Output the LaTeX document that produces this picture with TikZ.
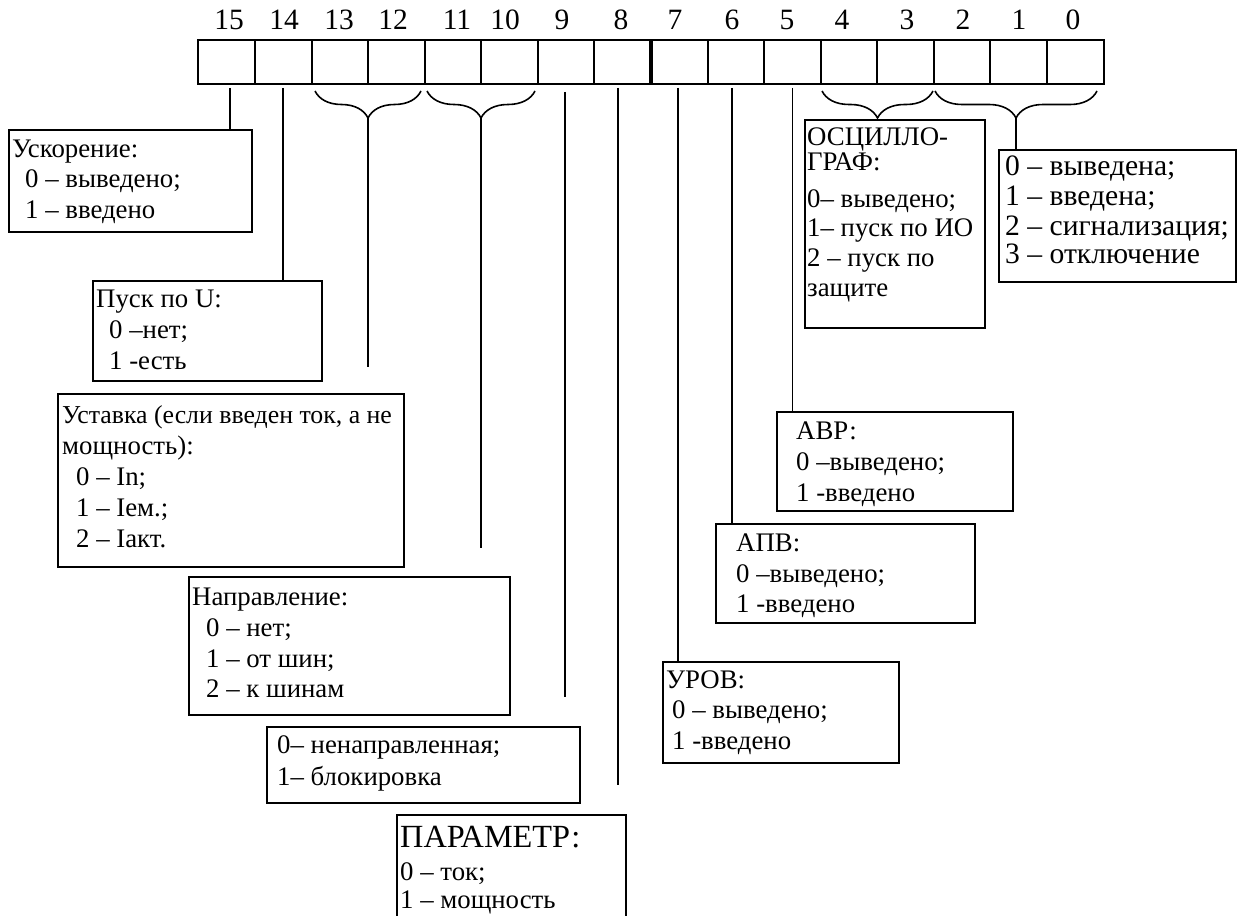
\documentclass[tikz,border=0pt]{standalone}
\usepackage{fontspec}
\setmainfont{Liberation Serif}
\usetikzlibrary{decorations.pathreplacing}
\tikzset{
  cell/.style={draw, line width=2pt, minimum height=44pt, inner sep=0pt, outer sep=0pt},
  digit/.style={anchor=base, inner sep=0pt, font=\fontsize{29.5}{32}\selectfont},
  box/.style={draw, line width=1.6pt, anchor=north west, inner sep=0pt, outer sep=0pt},
  txt/.style={anchor=base west, inner sep=0pt, font=\fontsize{26.8}{31}\selectfont},
  bigtxt/.style={txt, font=\fontsize{29.6}{31}\selectfont},
  headtxt/.style={txt, font=\fontsize{32.3}{34}\selectfont},
  conn/.style={line width=1.6pt},
  brc/.style={line width=1.6pt, decorate, decoration={brace, amplitude=27pt, mirror}},
}
\begin{document}
\begin{tikzpicture}[x=1pt, y=-1pt]
\fill[white] (0,0) rectangle (1246,915);
\useasboundingbox (0,0) rectangle (1246,915);
\clip (0,0) rectangle (1246,915);

% register cells
\node[cell, minimum width=57pt] (c15) at (226.5,62) {};
\node[cell, minimum width=57pt] (c14) at (283.5,62) {};
\node[cell, minimum width=56pt] (c13) at (340,62) {};
\node[cell, minimum width=57pt] (c12) at (396.5,62) {};
\node[cell, minimum width=56pt] (c11) at (453,62) {};
\node[cell, minimum width=57pt] (c10) at (509.5,62) {};
\node[cell, minimum width=56pt] (c9) at (566,62) {};
\node[cell, minimum width=57pt] (c8) at (622.5,62) {};
\node[cell, minimum width=57pt] (c7) at (679.5,62) {};
\node[cell, minimum width=56pt] (c6) at (736,62) {};
\node[cell, minimum width=57pt] (c5) at (792.5,62) {};
\node[cell, minimum width=56pt] (c4) at (849,62) {};
\node[cell, minimum width=57pt] (c3) at (905.5,62) {};
\node[cell, minimum width=56pt] (c2) at (962,62) {};
\node[cell, minimum width=57pt] (c1) at (1018.5,62) {};
\node[cell, minimum width=57pt] (c0) at (1075.5,62) {};
\draw[line width=4pt] (c8.north east) -- (c8.south east);

% bit numbers
\node[digit] (d15) at (229,30) {15};
\node[digit] (d14) at (284,30) {14};
\node[digit] (d13) at (339,30) {13};
\node[digit] (d12) at (393,30) {12};
\node[digit] (d11) at (457,30) {11};
\node[digit] (d10) at (505,30) {10};
\node[digit] (d9) at (562,30) {9};
\node[digit] (d8) at (621,30) {8};
\node[digit] (d7) at (675,30) {7};
\node[digit] (d6) at (732,30) {6};
\node[digit] (d5) at (787,30) {5};
\node[digit] (d4) at (842,30) {4};
\node[digit] (d3) at (907,30) {3};
\node[digit] (d2) at (963,30) {2};
\node[digit] (d1) at (1019,30) {1};
\node[digit] (d0) at (1073,30) {0};

% boxes
\node[box, minimum width=243pt, minimum height=102pt] (b15) at (9,130) {};
\node[box, minimum width=229pt, minimum height=100pt] (b14) at (93,281) {};
\node[box, minimum width=346pt, minimum height=173pt] (b1312) at (58,394) {};
\node[box, minimum width=321pt, minimum height=138pt] (b1110) at (189,577) {};
\node[box, minimum width=313pt, minimum height=76pt] (b9) at (267,727) {};
\node[box, minimum width=229pt, minimum height=112pt] (b8) at (397,815) {};
\node[box, minimum width=236pt, minimum height=101pt] (b7) at (663,662) {};
\node[box, minimum width=259pt, minimum height=99pt] (b6) at (716,524) {};
\node[box, minimum width=236pt, minimum height=99pt] (b5) at (777,412) {};
\node[box, minimum width=180pt, minimum height=208pt] (b43) at (805,120) {};
\node[box, minimum width=237pt, minimum height=132pt] (b20) at (999,150) {};

% connector start points
\coordinate (k15) at (230,88);
\coordinate (k14) at (283,88);
\coordinate (k9) at (565,92);
\coordinate (k8) at (618,88);
\coordinate (k7) at (678,88);
\coordinate (k6) at (732,88);
\coordinate (k5) at (792.5,88);
\coordinate (e9) at (565,697);
\coordinate (e8) at (618,785);

% braces
\coordinate (g13a) at (315,91);
\coordinate (g13b) at (421,91);
\coordinate (g13tip) at (368,118);
\coordinate (g13end) at (368,367);
\coordinate (g11a) at (427,91);
\coordinate (g11b) at (535,91);
\coordinate (g11tip) at (481,118);
\coordinate (g11end) at (481,548);
\coordinate (g4a) at (822,91);
\coordinate (g4b) at (933,91);
\coordinate (g4tip) at (877.5,118);
\coordinate (g2a) at (935,91);
\coordinate (g2b) at (1097,91);
\coordinate (g2tip) at (1016,118);

\draw[brc] (g13a) -- (g13b);
\draw[brc] (g11a) -- (g11b);
\draw[brc] (g4a) -- (g4b);
\draw[brc] (g2a) -- (g2b);

% connectors
\draw[conn] (k15) -- (k15 |- b15.north);
\draw[conn] (k14) -- (k14 |- b14.north);
\draw[conn] (g13tip) -- (g13end);
\draw[conn] (g11tip) -- (g11end);
\draw[conn] (k9) -- (e9);
\draw[conn] (k8) -- (e8);
\draw[conn] (k7) -- (k7 |- b7.north);
\draw[conn] (k6) -- (k6 |- b6.north);
\draw[conn] (k5) -- (k5 |- b5.north);
\draw[conn] (g4tip) -- (g4tip |- b43.north);
\draw[conn] (g2tip) -- (g2tip |- b20.north);

% texts
\node[txt] (t15a) at (12,157) {Ускорение:};
\node[txt] (t15b) at (25,187) {0 – выведено;};
\node[txt] (t15c) at (25,218) {1 – введено};

\node[txt] (t14a) at (96,307) {Пуск по U:};
\node[txt] (t14b) at (109,338) {0 –нет;};
\node[txt] (t14c) at (109,369) {1 -есть};

\node[txt, font=\fontsize{25.8}{31}\selectfont] (t13a) at (62,423) {Уставка (если введен ток, а не};
\node[txt] (t13b) at (62,454) {мощность):};
\node[txt] (t13c) at (76,485) {0 – In;};
\node[txt] (t13d) at (76,516) {1 – Iем.;};
\node[txt] (t13e) at (76,547) {2 – Iакт.};

\node[txt] (t11a) at (192,605) {Направление:};
\node[txt] (t11b) at (206,636) {0 – нет;};
\node[txt] (t11c) at (206,667) {1 – от шин;};
\node[txt] (t11d) at (206,697) {2 – к шинам};

\node[txt] (t9a) at (277,753) {0– ненаправленная;};
\node[txt] (t9b) at (277,785) {1– блокировка};

\node[headtxt] (t8a) at (400,847) {ПАРАМЕТР:};
\node[txt] (t8b) at (400,880) {0 – ток;};
\node[txt] (t8c) at (400,908) {1 – мощность};

\node[txt] (t7a) at (666,688) {УРОВ:};
\node[txt] (t7b) at (672,718) {0 – выведено;};
\node[txt] (t7c) at (672,749) {1 -введено};

\node[txt] (t6a) at (736,551) {АПВ:};
\node[txt] (t6b) at (736,582) {0 –выведено;};
\node[txt] (t6c) at (736,612) {1 -введено};

\node[txt] (t5a) at (796,439) {АВР:};
\node[txt] (t5b) at (796,470) {0 –выведено;};
\node[txt] (t5c) at (796,501) {1 -введено};

\node[txt] (t4a) at (807,145) {ОСЦИЛЛО-};
\node[txt] (t4b) at (807,170) {ГРАФ:};
\node[txt] (t4c) at (807,207) {0– выведено;};
\node[txt] (t4d) at (807,236) {1– пуск по ИО};
\node[txt] (t4e) at (807,266) {2 – пуск по};
\node[txt] (t4f) at (807,296) {защите};

\node[bigtxt] (t2a) at (1005,175) {0 – выведена;};
\node[bigtxt] (t2b) at (1005,205) {1 – введена;};
\node[bigtxt] (t2c) at (1005,235) {2 – сигнализация;};
\node[bigtxt] (t2d) at (1005,263) {3 – отключение};
\end{tikzpicture}
\end{document}
